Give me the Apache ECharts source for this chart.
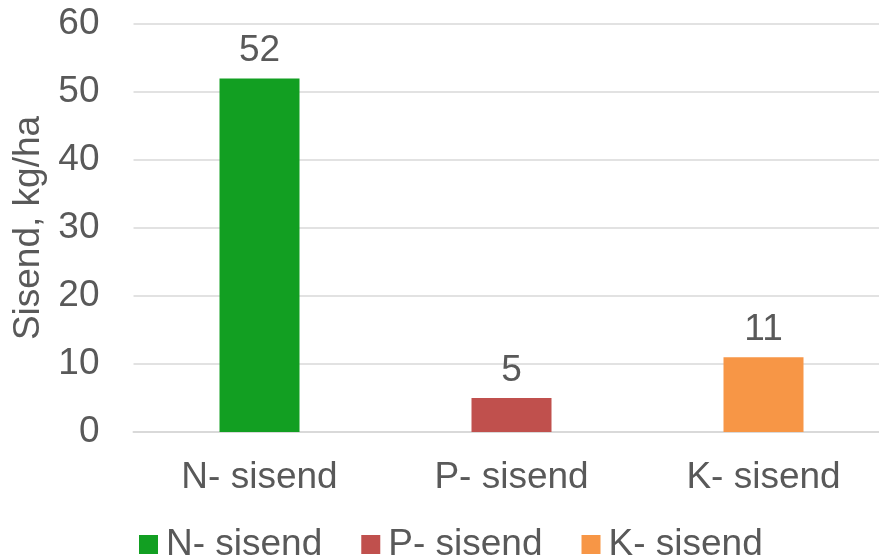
<!DOCTYPE html>
<html>
<head>
<meta charset="utf-8">
<script src="https://cdn.jsdelivr.net/npm/echarts@6/dist/echarts.min.js"></script>
<style>
html,body{margin:0;padding:0;background:#fff;}
#chart{width:879px;height:558px;}
</style>
</head>
<body>
<div id="chart"></div>
<script>
const categories = ['N- sisend', 'P- sisend', 'K- sisend'];
const values = [52, 5, 11];
const colors = ['#129f22', '#c0504d', '#f79646'];
const yTicks = [0, 10, 20, 30, 40, 50, 60];
const yName = 'Sisend, kg/ha';

const FONT = 'Liberation Sans, Arial, sans-serif';
const TXT = '#595959';
const FS = 37;

const chart = echarts.init(document.getElementById('chart'));
const series = values.map((v, i) => ({
  name: categories[i],
  type: 'bar',
  stack: 'all',
  barWidth: 80,
  itemStyle: { color: colors[i] },
  label: {
    show: true,
    position: 'top',
    distance: 9,
    color: TXT,
    fontSize: FS,
    fontFamily: FONT
  },
  data: categories.map((c, j) => (j === i ? v : '-'))
}));

chart.setOption({
  animation: false,
  backgroundColor: '#fff',
  grid: { left: 133.5, width: 756, top: 24, height: 408, outerBoundsMode: 'none', containLabel: false },
  legend: {
    left: 139,
    top: 526,
    padding: 0,
    itemWidth: 19,
    itemHeight: 19,
    itemGap: 39,
    icon: 'rect',
    textStyle: { color: TXT, fontSize: FS, fontFamily: FONT, padding: [0, 0, 0, 3] },
    data: categories
  },
  xAxis: {
    type: 'category',
    data: categories,
    axisLine: { lineStyle: { color: '#d9d9d9', width: 2 } },
    axisTick: { show: false },
    axisLabel: { color: TXT, fontSize: FS, fontFamily: FONT, margin: 27 }
  },
  yAxis: {
    type: 'value',
    min: yTicks[0],
    max: yTicks[yTicks.length - 1],
    interval: 10,
    name: yName,
    nameLocation: 'middle',
    nameGap: 84,
    nameTextStyle: { color: TXT, fontSize: FS, fontFamily: FONT },
    axisLine: { show: false },
    axisTick: { show: false },
    axisLabel: { color: TXT, fontSize: FS, fontFamily: FONT, margin: 34 },
    splitLine: { lineStyle: { color: '#d9d9d9', width: 1.5 } }
  },
  series: series
});
</script>
</body>
</html>
